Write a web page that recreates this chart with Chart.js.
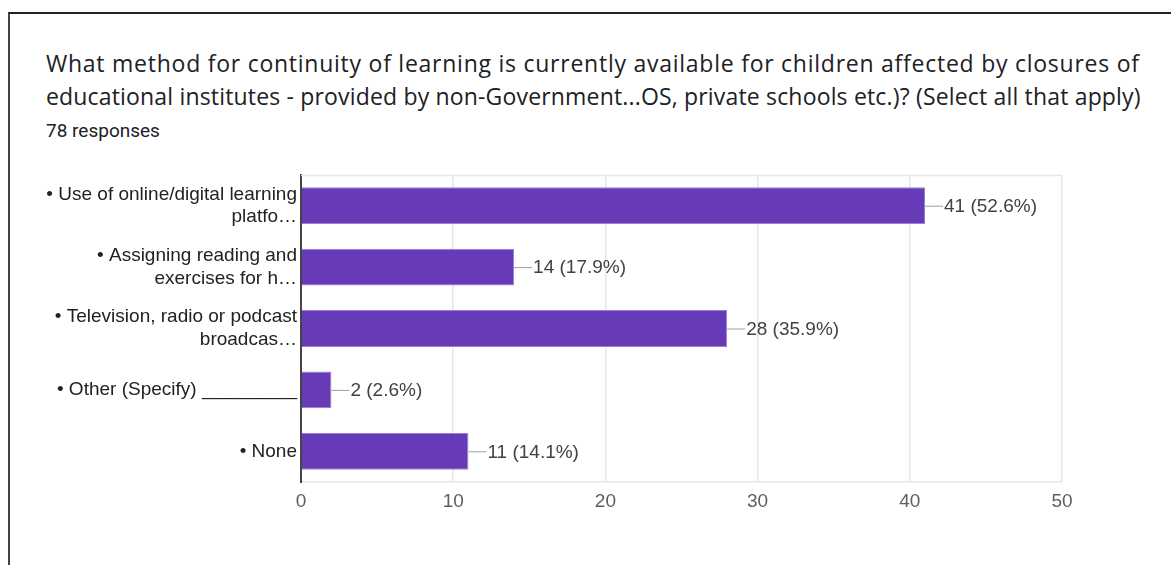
<!DOCTYPE html>
<html>
<head>
<meta charset="utf-8">
<script src="https://cdn.jsdelivr.net/npm/chart.js@4/dist/chart.umd.min.js"></script>
<style>
    html, body {
        margin: 0;
        padding: 0;
        width: 1171px;
        height: 565px;
        overflow: hidden;
        background: #fff;
    }
    #frame {
        position: absolute;
        left: 8px;
        top: 12px;
        width: 1200px;
        height: 600px;
        border-top: 2px solid #222;
        border-left: 2px solid #444;
    }
    #title {
        position: absolute;
        left: 46px;
        top: 47px;
        font-family: "Open Sans", Roboto, sans-serif;
        font-size: 23px;
        line-height: 33px;
        color: #202124;
        white-space: nowrap;
    }
    #title .l1 { letter-spacing: 0.75px; }
    #title .l2 { letter-spacing: 0.17px; }
    #responses {
        position: absolute;
        left: 46px;
        top: 119px;
        font-family: Roboto, "Noto Sans", sans-serif;
        font-size: 19px;
        line-height: 24px;
        color: #202124;
    }
    #chart-wrap {
        position: absolute;
        left: 0;
        top: 0;
        width: 1171px;
        height: 565px;
    }
</style>
</head>
<body>
<div id="frame"></div>
<div id="title">
    <div class="l1">What method for continuity of learning is currently available for children affected by closures of</div>
    <div class="l2">educational institutes - provided by non-Government...OS, private schools etc.)? (Select all that apply)</div>
</div>
<div id="responses">78 responses</div>
<div id="chart-wrap"><canvas id="chart" width="1171" height="565"></canvas></div>

<script>
// Answer options (truncated the way the form summary shows them)
const categories = [
    ['• Use of online/digital learning', 'platfo…'],
    ['• Assigning reading and', 'exercises for h…'],
    ['• Television, radio or podcast', 'broadcas…'],
    '• Other (Specify) _________',
    '• None'
];
const counts = [41, 14, 28, 2, 11];
const percents = ['52.6', '17.9', '35.9', '2.6', '14.1'];
const xTicks = [0, 10, 20, 30, 40, 50];

const labelFont = { family: '"Liberation Sans", Arial, sans-serif', size: 19 };

// Light frame round the plot area (top edge; the rest comes from the grid)
const plotFrame = {
    id: 'plotFrame',
    beforeDatasetsDraw(chart) {
        const { ctx, chartArea } = chart;
        ctx.save();
        ctx.strokeStyle = '#e6e6e6';
        ctx.lineWidth = 1.5;
        ctx.beginPath();
        ctx.moveTo(chartArea.left, chartArea.top + 0.5);
        ctx.lineTo(chartArea.right, chartArea.top + 0.5);
        ctx.stroke();
        ctx.restore();
    }
};

// "count (pct%)" labels with a short leader line after each bar
const valueLabels = {
    id: 'valueLabels',
    afterDatasetsDraw(chart) {
        const { ctx } = chart;
        const meta = chart.getDatasetMeta(0);
        ctx.save();
        ctx.font = `${labelFont.size}px ${labelFont.family}`;
        ctx.textBaseline = 'middle';
        ctx.textAlign = 'left';
        meta.data.forEach((bar, i) => {
            ctx.strokeStyle = '#9e9e9e';
            ctx.lineWidth = 1;
            ctx.beginPath();
            ctx.moveTo(bar.x, bar.y + 0.5);
            ctx.lineTo(bar.x + 18, bar.y + 0.5);
            ctx.stroke();
            ctx.fillStyle = '#424242';
            ctx.fillText(`${counts[i]} (${percents[i]}%)`, bar.x + 19, bar.y + 1);
        });
        ctx.restore();
    }
};

new Chart(document.getElementById('chart'), {
    type: 'bar',
    data: {
        labels: categories,
        datasets: [{
            data: counts,
            backgroundColor: '#673ab7',
            borderColor: '#9a7fd4',
            borderWidth: 1,
            categoryPercentage: 1,
            barPercentage: 0.6
        }]
    },
    options: {
        indexAxis: 'y',
        responsive: false,
        animation: false,
        layout: {
            padding: { top: 175, right: 109, left: 0, bottom: 0 }
        },
        plugins: {
            legend: { display: false },
            tooltip: { enabled: false }
        },
        scales: {
            x: {
                min: 0,
                max: 50,
                afterFit(scale) { scale.height = 83; },
                ticks: {
                    stepSize: 5,
                    autoSkip: false,
                    maxRotation: 0,
                    padding: 8,
                    color: '#5f5f5f',
                    font: labelFont,
                    callback: value => (xTicks.includes(value) ? value : null)
                },
                grid: {
                    color: '#e6e6e6',
                    lineWidth: 1.5,
                    drawTicks: false
                },
                border: { color: '#e6e6e6', width: 1.5 }
            },
            y: {
                afterFit(scale) { scale.width = 301; },
                ticks: {
                    padding: 4,
                    color: '#222',
                    font: labelFont,
                    crossAlign: 'near'
                },
                grid: { display: false, drawTicks: false },
                border: { color: '#444', width: 2 }
            }
        }
    },
    plugins: [plotFrame, valueLabels]
});
</script>
</body>
</html>
